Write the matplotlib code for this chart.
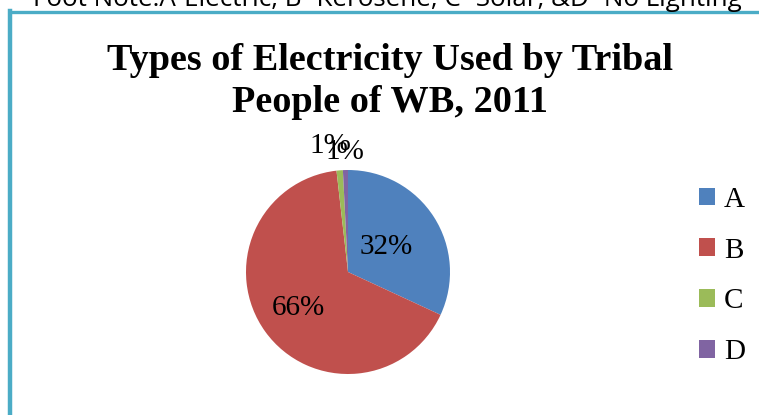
import numpy as np
import matplotlib
matplotlib.use("Agg")
import matplotlib.pyplot as plt
from matplotlib.lines import Line2D

labels = ['A', 'B', 'C', 'D']
shares = [31.9, 66.3, 1.0, 0.8]
colors = ['#4F81BD', '#C0504D', '#9BBB59', '#8064A2']
pct_text = ['32%', '66%', '1%', '1%']
# distance of each percent label from the centre (in radii), plus a small sideways nudge
pct_r = [0.45, 0.60, 1.24, 1.18]
pct_dx = [0.0, 0.0, -0.09, 0.0]

title = 'Types of Electricity Used by Tribal\nPeople of WB, 2011'
note = 'Foot Note:A-Electric, B- Kerosene, C- Solar, &D- No Lighting'

fig = plt.figure(figsize=(7.59, 4.15), dpi=100)

# chart area border (only top and left visible)
border = '#4BACC6'
fig.add_artist(Line2D([11/759, 1], [1 - 12.5/415, 1 - 12.5/415], color=border, lw=2.4))
fig.add_artist(Line2D([10/759, 10/759], [0, 1 - 11/415], color=border, lw=3.2))

fig.text(387/759, 1 - 6/415, note, ha='center', va='baseline',
         fontsize=18.7, family='Open Sans', color='black')

# va=baseline on multi-line text -> last line's baseline
fig.text(390/759, 1 - 112/415, title, ha='center', va='baseline',
         fontsize=27.5, fontweight='bold', family='Liberation Serif',
         linespacing=1.25)

ax = fig.add_axes([246/759, 41/415, 204/759, 204/415])
wedges, _ = ax.pie(shares, colors=colors, startangle=90, counterclock=False,
                   wedgeprops=dict(linewidth=0))
ax.set_xlim(-1, 1)
ax.set_ylim(-1, 1)

for w, t, r, dx in zip(wedges, pct_text, pct_r, pct_dx):
    ang = np.deg2rad((w.theta1 + w.theta2) / 2)
    ax.text(r * np.cos(ang) + dx, r * np.sin(ang), t, ha='center', va='center',
            fontsize=21, family='Liberation Serif')

fig.legend(wedges, labels, loc='center left', bbox_to_anchor=(673/759, 1 - 276/415),
           frameon=False, prop=dict(family='Liberation Serif', size=21),
           handlelength=0.55, handleheight=0.55, handletextpad=0.3, labelspacing=0.85)

fig.savefig('out.png', dpi=100)
